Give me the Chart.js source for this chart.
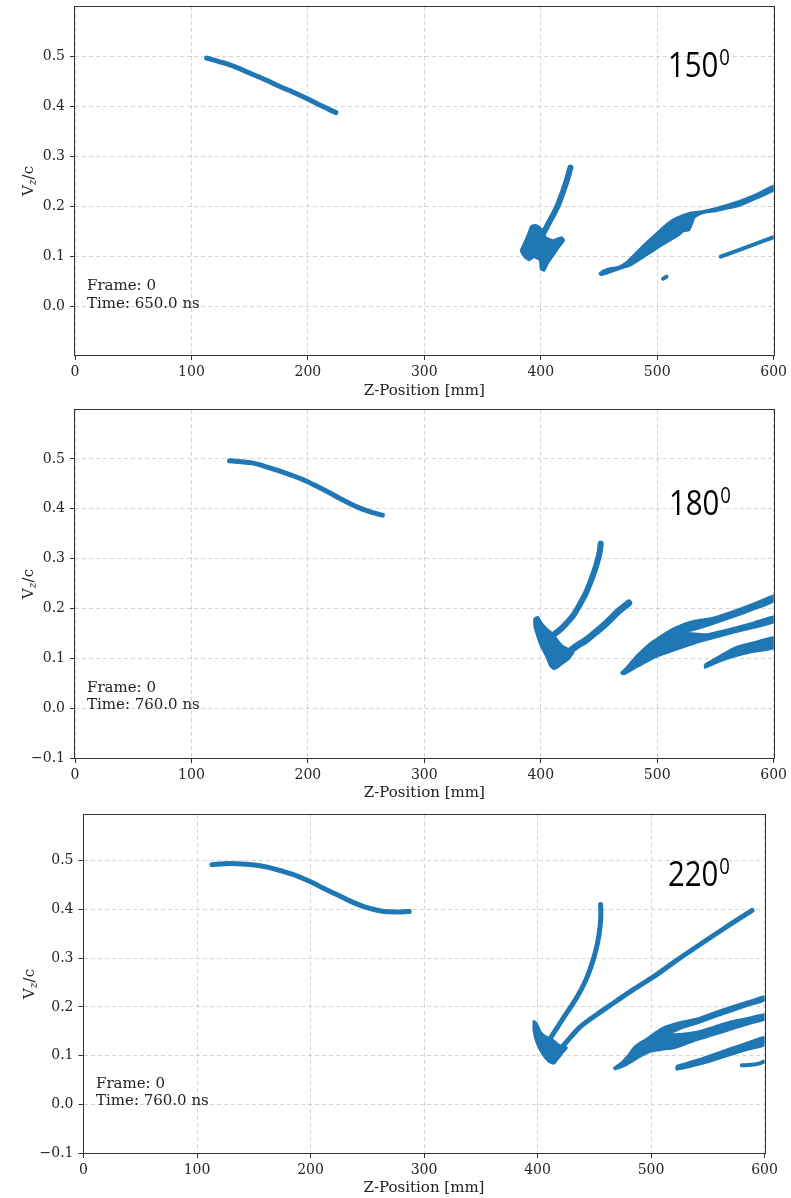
<!DOCTYPE html>
<html>
<head>
<meta charset="utf-8">
<script src="https://cdn.jsdelivr.net/npm/chart.js@4.4.1/dist/chart.umd.min.js"></script>
<style>
  body { margin: 0; background: #fff; }
  .panel { position: absolute; left: 0; }
</style>
</head>
<body>
<canvas id="chart1" class="panel" style="top:0px" width="791" height="400"></canvas>
<canvas id="chart2" class="panel" style="top:400px" width="791" height="400"></canvas>
<canvas id="chart3" class="panel" style="top:800px" width="791" height="398"></canvas>
<script>
const blue = '#1f77b4';
const xTicks = [0, 100, 200, 300, 400, 500, 600];
const yTicksTop = [0.0, 0.1, 0.2, 0.3, 0.4, 0.5];
const yTicksFull = [-0.1, 0.0, 0.1, 0.2, 0.3, 0.4, 0.5];
const angles = ['150', '180', '220'];
const frames = ['0', '0', '0'];
const times = ['650.0', '760.0', '760.0'];

// panel 1 - 150 deg, 650 ns  ([z mm, Vz/c])
const p1Curve = [[113,0.497],[125,0.489],[138,0.479],[150,0.467],[163,0.454],[175,0.441],[188,0.428],[200,0.415],[212,0.401],[224,0.388]];
const p1Strand = [[425.5,0.278],[423.2,0.259],[420.6,0.240],[417.6,0.220],[414.4,0.201],[411,0.185],[407.5,0.170],[403,0.150]];
const p1Blob = [[392.9,0.163],[396.3,0.163],[400,0.157],[402.9,0.150],[404.3,0.139],[410,0.133],[418,0.139],[420,0.133],[415.7,0.119],[410,0.100],[405.7,0.085],[402.9,0.072],[400,0.075],[399.1,0.093],[394.3,0.099],[390,0.093],[385.7,0.100],[382.9,0.112],[385.7,0.127],[389.4,0.147],[391.4,0.160]];
const p1Band = [[450,0.066],[454,0.073],[460,0.077],[467,0.080],[474,0.090],[481,0.106],[490,0.127],[498.6,0.145],[507,0.163],[515.7,0.177],[527,0.187],[538.6,0.191],[550,0.197],[570,0.211],[585,0.225],[600,0.242],
  [600,0.232],[585,0.216],[570,0.201],[550,0.191],[538,0.186],[532,0.178],[530,0.166],[527.5,0.153],[522,0.150],[518.6,0.143],[507,0.127],[495.7,0.110],[484.3,0.093],[475.7,0.081],[467,0.075],[458.6,0.068],[452,0.063]];
const p1Line2 = [[554.5,0.100],[570,0.113],[585,0.126],[600,0.139]];
const p1Dot = [[505,0.056],[508,0.060]];

// panel 2 - 180 deg, 760 ns
const p2Curve = [[132.7,0.496],[152,0.492],[163,0.485],[174,0.477],[185,0.468],[195,0.459],[206,0.447],[217,0.434],[228,0.420],[239,0.407],[248,0.398],[256,0.392],[264,0.387]];
const p2Strand = [[451.5,0.330],[450.5,0.312],[448.5,0.293],[446,0.274],[443,0.255],[439,0.232],[434,0.210],[428.5,0.188],[422,0.170],[416,0.156],[410,0.146]];
const p2Arm = [[475.5,0.211],[467.1,0.195],[455.7,0.169],[447,0.152],[438.6,0.136],[431,0.125],[424.3,0.113],[418,0.098],[413,0.086]];
const p2Blob = [[394.3,0.180],[397.5,0.183],[401,0.170],[405,0.160],[410,0.150],[414,0.138],[418,0.126],[424,0.118],[428,0.112],[424.3,0.099],[418,0.088],[411.4,0.078],[408,0.085],[404.5,0.105],[400,0.125],[396.5,0.148],[394.5,0.165]];
const p2Band = [[468.6,0.070],[473,0.080],[478.6,0.095],[484,0.109],[490,0.122],[495,0.132],[501.4,0.142],[508,0.152],[515.7,0.162],[524,0.170],[532.9,0.176],[547.1,0.181],[567.1,0.196],[583,0.210],[600,0.226],
  [600,0.214],[583,0.198],[567,0.184],[547,0.168],[535,0.159],[524.3,0.152],
  [541.4,0.148],[555,0.155],[567.1,0.162],[583,0.172],[600,0.184],
  [600,0.172],[583,0.161],[567,0.152],[541.4,0.136],[530,0.128],[518.6,0.119],[501.4,0.105],[490,0.092],[480,0.079],[471.4,0.068]];
const p2Line3 = [[541,0.088],[553,0.104],[567,0.122],[583,0.132],[600,0.142],[600,0.120],[583,0.113],[567,0.104],[553,0.093],[541,0.081]];

// panel 3 - 220 deg, 760 ns
const p3Curve = [[113.2,0.492],[124,0.494],[135.5,0.494],[149,0.492],[162,0.487],[173,0.480],[184.5,0.472],[193,0.464],[202,0.455],[211,0.444],[220,0.434],[229,0.424],[238,0.414],[247,0.406],[256,0.400],[265,0.396],[273.5,0.395],[280,0.395],[287,0.396]];
const p3Strand = [[455.6,0.410],[455.8,0.385],[454.8,0.358],[452.8,0.330],[449.9,0.303],[446,0.275],[441.2,0.248],[435.5,0.223],[429.3,0.200],[423,0.178],[417.5,0.158],[412,0.138]];
const p3Arm = [[589,0.398],[565,0.362],[540.5,0.324],[521,0.293],[502.3,0.262],[484,0.235],[467,0.208],[452,0.184],[437.6,0.159],[430,0.140],[423,0.121],[418,0.103],[414.5,0.088]];
const p3Blob = [[396.5,0.172],[399.4,0.166],[402.4,0.150],[406.8,0.140],[411,0.136],[415,0.130],[419,0.122],[426,0.116],[423,0.108],[419,0.096],[414.1,0.083],[409.7,0.088],[403.8,0.105],[398.8,0.129],[396.5,0.153]];
const p3Band = [[467,0.074],[474,0.086],[480,0.101],[484.7,0.116],[490,0.126],[496.4,0.135],[504,0.148],[511,0.158],[517,0.163],[528,0.170],[540.5,0.176],[555,0.188],[569.9,0.200],[585,0.211],[600,0.222],
  [600,0.213],[585,0.202],[569.9,0.190],[555,0.178],[540.5,0.166],[528,0.157],[519.9,0.149],[514,0.144],
  [528,0.145],[540.5,0.149],[555,0.159],[569.9,0.170],[585,0.177],[600,0.185],
  [600,0.174],[585,0.164],[569.9,0.153],[555,0.142],[540.5,0.132],[530,0.123],[519.9,0.115],[510,0.112],[499.4,0.108],[490.5,0.098],[478.8,0.081],[468.5,0.072]];
const p3Line3 = [[522.5,0.079],[540,0.091],[555,0.103],[570,0.115],[585,0.127],[600,0.138],[600,0.121],[585,0.112],[570,0.101],[555,0.090],[540,0.080],[522.5,0.071]];
const p3Line4 = [[580,0.080],[588,0.081],[594,0.083],[600,0.088]];

const toXY = pts => pts.map(([x, y]) => ({ x, y }));

const strand = (pts, w) => ({
  data: toXY(pts), showLine: true, borderColor: blue, borderWidth: w,
  pointRadius: 0, pointHoverRadius: 0, borderCapStyle: 'round', borderJoinStyle: 'round',
  tension: 0.35, fill: false, clip: 0
});

const blob = pts => ({
  data: toXY([...pts, pts[0]]), showLine: true, borderColor: blue, backgroundColor: blue,
  borderWidth: 2, pointRadius: 0, pointHoverRadius: 0, borderJoinStyle: 'round',
  tension: 0.15, fill: 'shape', clip: 0
});

const serif = '"DejaVu Serif", serif';

const fmtY = v => {
  if (Math.abs(v) < 1e-9) return '0.0';
  return (v < 0 ? '\u2212' : '') + Math.abs(v).toFixed(1);
};

// frame, axis titles and the text boxes
const panelText = {
  id: 'panelText',
  afterDraw(chart, args, o) {
    const { ctx, chartArea: a } = chart;
    ctx.save();
    ctx.strokeStyle = '#333';
    ctx.lineWidth = 1;
    ctx.strokeRect(Math.round(a.left) - 0.5, Math.round(a.top) - 0.5,
      Math.round(a.right) - Math.round(a.left) + 1, Math.round(a.bottom) - Math.round(a.top) + 1);

    ctx.fillStyle = '#222';
    ctx.textAlign = 'center';
    ctx.textBaseline = 'alphabetic';
    ctx.font = '15px ' + serif;
    ctx.fillText('Z-Position [mm]', (a.left + a.right) / 2, o.xTitleY);

    // V_z/c
    ctx.save();
    ctx.translate(o.yTitleX, (a.top + a.bottom) / 2);
    ctx.rotate(-Math.PI / 2);
    ctx.textAlign = 'left';
    ctx.font = '15px ' + serif;
    const wV = ctx.measureText('V').width;
    const wc = ctx.measureText('/c').width;
    ctx.font = 'italic 11px ' + serif;
    const wz = ctx.measureText('z').width;
    const x0 = -(wV + wz + wc) / 2;
    ctx.font = '15px ' + serif;
    ctx.fillText('V', x0, 0);
    ctx.fillText('/c', x0 + wV + wz, 0);
    ctx.font = 'italic 11px ' + serif;
    ctx.fillText('z', x0 + wV, 3);
    ctx.restore();

    ctx.textAlign = 'left';
    ctx.font = '15px ' + serif;
    ctx.fillText('Frame: ' + o.frame, o.infoX, o.infoY[0]);
    ctx.fillText('Time: ' + o.time + ' ns', o.infoX, o.infoY[1]);

    // angle label
    ctx.fillStyle = '#000';
    ctx.translate(o.angleX, o.angleY);
    ctx.scale(0.84, 1);
    ctx.font = '35px "Open Sans", "Liberation Sans", sans-serif';
    ctx.fillText(o.angle, 0, 0);
    const w = ctx.measureText(o.angle).width;
    ctx.font = '22px "Open Sans", "Liberation Sans", sans-serif';
    ctx.fillText('0', w + 1, -12);
    ctx.restore();
  }
};

function makePanel(id, cfg) {
  const gridOpts = { color: '#d4d4d4', lineWidth: 1, tickLength: 5, tickColor: '#333', tickWidth: 1 };
  const borderOpts = { display: false, dash: [4, 3] };
  new Chart(document.getElementById(id), {
    type: 'scatter',
    data: { datasets: cfg.datasets },
    options: {
      responsive: false,
      animation: false,
      events: [],
      layout: { padding: { top: cfg.top, right: cfg.right, left: 0, bottom: 0 } },
      plugins: {
        legend: { display: false },
        tooltip: { enabled: false },
        panelText: cfg.text
      },
      scales: {
        x: {
          type: 'linear', min: 0, max: 600,
          afterFit: s => { s.height = cfg.xAxisH; },
          afterBuildTicks: s => { s.ticks = xTicks.map(v => ({ value: v })); },
          grid: gridOpts, border: borderOpts,
          ticks: { autoSkip: false, maxRotation: 0, padding: 4, color: '#262626', font: { family: serif, size: 14 }, callback: v => String(v) }
        },
        y: {
          type: 'linear', min: cfg.yMin, max: cfg.yMax,
          afterFit: s => { s.width = cfg.yAxisW; },
          afterBuildTicks: s => { s.ticks = cfg.yTicks.map(v => ({ value: v })); },
          grid: gridOpts, border: borderOpts,
          ticks: { autoSkip: false, padding: 5, color: '#262626', font: { family: serif, size: 14, lineHeight: 0.2 }, callback: fmtY }
        }
      }
    },
    plugins: [panelText]
  });
}

makePanel('chart1', {
  top: 7, right: 16, yAxisW: 75, xAxisH: 45, yMin: -0.0965, yMax: 0.599, yTicks: yTicksTop,
  datasets: [strand(p1Curve, 5), strand(p1Strand, 6), blob(p1Blob), blob(p1Band), strand(p1Line2, 4), strand(p1Dot, 4)],
  text: { yTitleX: 33, xTitleY: 395, infoX: 87, infoY: [290, 307.5], frame: frames[0], time: times[0], angle: angles[0], angleX: 668, angleY: 77 }
});

makePanel('chart2', {
  top: 10, right: 16, yAxisW: 75, xAxisH: 42, yMin: -0.1, yMax: 0.598, yTicks: yTicksFull,
  datasets: [strand(p2Curve, 5), strand(p2Strand, 6), strand(p2Arm, 7), blob(p2Blob), blob(p2Band), blob(p2Line3)],
  text: { yTitleX: 33, xTitleY: 397, infoX: 87, infoY: [291.5, 308.5], frame: frames[1], time: times[1], angle: angles[1], angleX: 669, angleY: 115 }
});

makePanel('chart3', {
  top: 15, right: 26.5, yAxisW: 83.5, xAxisH: 45, yMin: -0.1, yMax: 0.594, yTicks: yTicksFull,
  datasets: [strand(p3Curve, 5), strand(p3Strand, 5), strand(p3Arm, 5), blob(p3Blob), blob(p3Band), blob(p3Line3), strand(p3Line4, 4)],
  text: { yTitleX: 34, xTitleY: 392, infoX: 96, infoY: [288, 305], frame: frames[2], time: times[2], angle: angles[2], angleX: 668, angleY: 86 }
});
</script>
</body>
</html>
